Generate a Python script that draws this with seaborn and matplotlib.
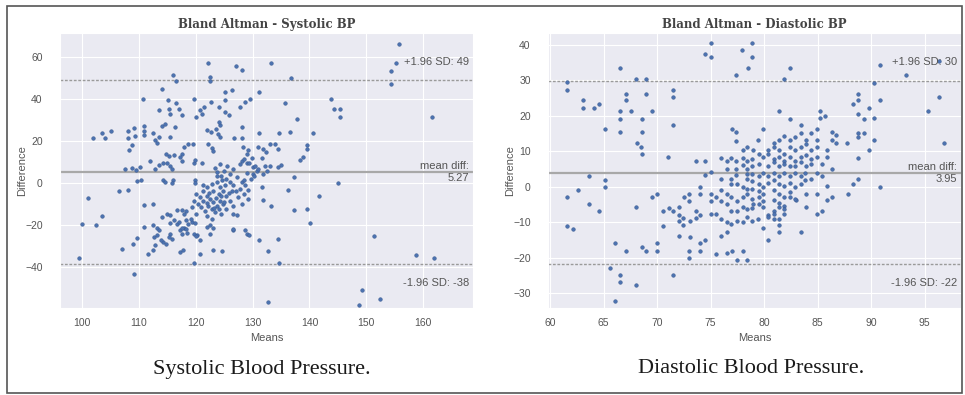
import matplotlib
matplotlib.use('Agg')
import matplotlib.pyplot as plt
import seaborn as sns
from matplotlib.patches import Rectangle

sns.set_style('darkgrid')
plt.rcParams['font.family'] = ['Liberation Sans', 'DejaVu Sans']

# Systolic BP: mean of the two readings vs their difference
sys_means = [
    155.8, 155.3, 154.3, 154.3, 161.5, 122.1, 127.1, 128.1, 133.3, 116.0,
    116.5, 122.5, 122.5, 136.7, 114.1, 125.1, 126.4, 131.2, 110.7, 119.6,
    129.6, 128.7, 127.7, 125.2, 122.7, 121.5, 120.8, 115.1, 115.2, 115.5,
    116.5, 117.0, 117.6, 113.6, 120.1, 121.1, 124.1, 125.2, 125.8, 135.7,
    137.8, 143.8, 144.4, 145.4, 145.3, 101.9, 103.5, 104.1, 105.1, 108.0,
    108.0, 108.3, 109.2, 109.3, 108.8, 110.9, 110.9, 110.9, 112.5, 112.9,
    113.2, 113.6, 115.5, 114.1, 114.5, 116.4, 118.0, 118.7, 119.5, 117.6,
    117.3, 116.1, 115.2, 114.8, 121.9, 122.6, 123.6, 124.2, 123.9, 124.2,
    126.8, 128.2, 128.2, 131.1, 122.2, 122.8, 128.3, 129.1, 129.0, 130.9,
    131.8, 132.4, 133.0, 133.9, 134.5, 134.7, 136.6, 139.6, 139.6, 140.7,
    138.3, 138.9, 135.0, 134.5, 137.2, 145.0, 107.6, 108.8, 109.4, 110.1,
    109.7, 110.3, 112.9, 113.6, 114.3, 114.9, 115.4, 115.8, 114.2, 114.6,
    116.0, 115.8, 117.6, 119.7, 119.8, 121.1, 119.8, 119.8, 106.4, 108.0,
    101.0, 141.7, 112.0, 123.0, 128.1, 129.0, 131.6, 132.2, 130.1, 130.8,
    124.1, 100.0, 102.5, 103.5, 99.5, 109.1, 107.0, 109.0, 109.6, 110.9,
    112.5, 110.9, 112.5, 113.1, 111.5, 112.5, 112.9, 112.7, 113.2, 113.6,
    114.3, 113.8, 114.8, 115.5, 115.8, 115.2, 114.1, 115.0, 115.5, 116.1,
    116.7, 117.0, 117.3, 117.6, 117.9, 117.3, 117.7, 116.7, 117.6, 118.2,
    118.2, 118.7, 119.3, 119.9, 119.6, 120.2, 120.8, 119.6, 120.7, 122.0,
    122.5, 123.1, 122.5, 126.6, 126.6, 127.2, 128.6, 129.0, 129.3, 131.2,
    132.7, 134.7, 134.5, 132.7, 131.6, 131.9, 133.3, 136.3, 137.2, 139.6,
    140.1, 151.3, 149.3, 148.7, 152.4, 158.8, 161.9, 124.6, 126.5, 129.2,
    118.3, 118.5, 123.0, 115.5, 117.9, 117.6, 119.2, 120.0,
    123.7, 124.5, 125.4, 126.0, 126.6, 127.2, 128.1, 128.6, 127.8, 128.4,
    129.2, 130.1, 129.8, 122.8, 123.7, 121.9, 123.1, 124.0, 124.8, 125.4,
    126.0, 126.6, 120.1, 120.7, 121.3, 121.9, 122.5, 123.1, 123.7, 124.2,
    124.8, 125.4, 120.4, 121.0, 121.6, 122.2, 122.8, 123.4, 124.0, 124.5,
    121.9, 122.8, 121.3, 124.2, 125.1, 120.1, 119.3, 119.6, 126.3, 127.5,
    128.1, 123.4, 124.3, 124.9, 125.5, 126.1, 126.6, 127.0, 127.8, 128.4,
    129.3, 129.9, 130.4, 131.0, 131.9, 132.5, 133.0, 130.2, 129.0, 128.4,
    123.7, 124.6, 122.4, 123.6, 125.0, 122.0, 124.4, 123.2, 125.8, 121.2,
]
sys_diffs = [
    66.3, 57.3, 53.3, 47.3, 31.4, 57.3, 55.6, 53.7, 57.3, 51.3,
    48.6, 50.5, 48.6, 50.2, 44.9, 43.3, 44.1, 43.3, 40.2, 40.2,
    40.2, 38.6, 36.2, 39.4, 38.6, 36.2, 34.6, 39.4, 35.4, 33.0,
    38.3, 35.4, 32.2, 34.6, 31.4, 33.0, 36.2, 33.8, 32.2, 38.3,
    30.3, 40.2, 35.4, 35.4, 31.4, 21.4, 23.8, 21.6, 24.9, 24.9,
    21.4, 15.9, 26.2, 22.2, 18.3, 27.0, 24.8, 23.0, 23.8, 20.3,
    19.0, 21.9, 21.9, 27.0, 28.3, 26.7, 17.1, 18.7, 18.4, 14.0,
    12.4, 13.2, 12.7, 13.7, 25.4, 24.3, 25.9, 27.5, 23.3, 21.9,
    21.6, 21.4, 26.7, 23.8, 18.7, 16.7, 17.1, 15.6, 14.0, 17.1,
    16.3, 14.8, 18.7, 18.7, 16.3, 23.8, 24.3, 17.9, 16.3, 24.0,
    11.1, 12.4, 8.4, 7.6, 2.9, 0.0, 6.7, 7.3, 6.0, 7.6,
    0.8, 1.6, 6.7, 8.7, 9.5, 9.5, 7.9, 6.7, 1.3, 0.5,
    1.3, 0.0, 10.3, 9.5, 11.1, 9.5, 1.3, 0.0, -3.8, -3.2,
    -7.0, -6.0, 10.7, 15.0, 10.7, 9.3, 11.7, 8.3, 7.8, 5.9,
    29.0, -19.4, -20.2, -15.9, -36.0, -43.2, -31.3, -28.9, -26.0, -10.6,
    -10.2, -21.0, -20.2, -21.7, -34.0, -32.1, -29.7, -25.7, -24.6, -22.5,
    -28.1, -27.0, -28.9, -24.1, -26.5, -25.7, -16.2, -14.6, -15.4, -17.8,
    -19.4, -18.6, -22.5, -24.1, -21.7, -32.9, -32.1, -13.0, -12.7, -13.5,
    -17.8, -19.4, -18.6, -19.0, -38.1, -24.9, -27.3, -24.1, -34.0, -21.0,
    -20.2, -32.1, -24.1, -22.2, -14.6, -15.4, -22.2, -24.1, -24.9, -27.3,
    -32.4, -38.3, -26.5, -56.7, -1.9, -7.9, -11.1, -3.2, -13.0, -12.2,
    -19.0, -25.4, -51.1, -58.3, -55.1, -34.4, -36.0, -32.3, -21.8, -3.2,
    -21.8, -23.7, -21.3, -18.9, -14.6, -21.3, -17.0, -25.1,
    5.1, 3.5, 2.0, 0.4, -1.2, 2.7, 0.4, -1.2, -2.8, -5.2,
    -7.6, 4.3, 1.9, -0.4, 0.4, -2.0, -3.6, -5.2, -3.6, -6.0,
    -8.4, -10.8, -5.2, -6.8, -8.4, -6.0, -7.6, -9.2, -10.8, -8.4,
    -10.0, -12.4, -10.0, -11.6, -13.2, -10.8, -12.4, -14.0, -12.4, -14.8,
    -15.6, -17.2, -3.6, -2.0, -1.2, -14.8, -11.6, -8.4, -3.6, -6.8,
    -10.0, 7.3, 8.9, 5.7, 8.1, 4.1, 6.5, -4.0, 8.9, 11.3,
    9.7, 12.1, 8.1, 6.5, 4.1, 5.7, 8.1, 3.3, 4.9, 1.3,
    3.3, 1.3, -4.8, -7.0, -9.0, -9.4, -6.4, -12.0, -5.0, -0.8,
]
sys_mean_diff = 5.27
sys_upper = 48.9
sys_lower = -38.4

# Diastolic BP
dia_means = [
    61.6, 61.6, 63.1, 63.1, 64.1, 64.6, 65.1, 66.5, 66.5, 66.5,
    66.5, 67.1, 67.1, 67.6, 68.0, 69.0, 69.0, 69.5, 68.6, 68.6,
    68.1, 68.5, 68.6, 71.5, 71.5, 71.5, 71.0, 73.6, 74.5, 75.0,
    74.5, 75.0, 77.9, 78.9, 78.9, 78.5, 77.4, 82.4, 81.9, 81.4,
    82.4, 79.9, 77.0, 77.4, 77.4, 79.4, 78.4, 79.0, 78.0, 80.9,
    81.4, 81.9, 82.4, 82.9, 83.4, 83.9, 84.4, 84.9, 84.9, 83.4,
    79.5, 80.4, 80.9, 81.4, 81.9, 82.4, 82.9, 83.4, 83.9, 84.4,
    84.9, 85.9, 78.9, 79.9, 80.4, 80.9, 81.4, 81.9, 82.4, 82.9,
    83.4, 83.9, 84.4, 84.9, 85.9, 78.9, 79.5, 80.4, 80.9, 81.4,
    81.9, 82.4, 82.9, 83.4, 83.9, 84.4, 85.4, 86.3, 76.0, 76.5,
    76.9, 77.4, 78.0, 78.4, 76.5, 77.4, 78.0, 78.4, 78.4, 77.4,
    75.0, 74.5, 63.6, 85.2, 85.7, 85.2, 86.3, 86.7, 86.3, 86.7,
    87.7, 88.3, 88.8, 88.8, 88.8, 89.3, 88.8, 89.3, 88.8, 89.8,
    89.8, 90.3, 90.3, 90.3, 90.8, 90.8, 93.3, 95.3, 96.3, 96.3,
    96.8, 88.8, 88.3, 88.8, 90.8, 87.8, 86.3, 85.9, 85.4, 84.9,
    85.9, 84.9, 83.9, 83.4, 83.9, 83.0, 78.9, 79.5, 79.9, 80.4,
    80.9, 81.4, 81.9, 82.4, 82.9, 83.4, 83.8, 84.4, 84.9, 85.4,
    78.9, 79.5, 79.9, 80.4, 80.9, 81.4, 81.9, 82.4, 82.9, 83.4,
    83.8, 78.9, 79.5, 79.9, 80.9, 81.4, 81.9, 82.4, 82.9, 78.9,
    79.5, 79.9, 80.9, 81.4, 81.9, 82.4, 78.9, 79.5, 79.9, 80.4,
    80.9, 81.4, 81.9, 81.4, 80.4, 81.4, 81.4, 79.9, 78.9, 79.4,
    80.4, 80.9, 80.9, 81.9, 61.6, 62.6, 65.1, 65.1, 69.5, 70.0,
    61.6, 62.1, 63.6, 64.6, 66.1, 65.6, 66.5, 66.5, 66.1, 67.1,
    68.0, 68.0, 68.6, 69.0, 70.0, 70.0, 70.5, 70.5, 71.1, 71.5,
    72.0, 72.0, 72.0, 72.4, 72.4, 71.5, 72.0, 73.1, 72.5, 73.0,
    73.0, 73.0, 73.0, 73.6, 73.6, 74.0, 73.1, 74.0, 74.0, 74.0,
    74.0, 74.5, 75.0, 75.0, 75.5, 76.0, 76.0, 76.5, 76.5, 76.9,
    76.9, 75.5, 76.0, 76.5, 76.9, 77.5, 78.0, 78.4, 79.0, 78.4,
    78.0, 77.5, 77.5, 78.0, 78.4, 78.4, 78.0, 77.5, 76.9, 76.0,
    78.4, 76.9, 76.0, 76.5, 78.0, 77.0, 77.5, 78.4, 75.5, 75.0,
    76.5,
]
dia_diffs = [
    29.6, 27.4, 24.6, 22.3, 22.3, 23.4, 16.2, 33.4, 21.3, 19.2,
    15.4, 26.3, 24.6, 21.3, 30.3, 30.3, 26.3, 21.3, 19.2, 15.4,
    12.4, 11.1, 9.3, 27.4, 25.3, 17.3, 8.5, 7.4, 7.4, 40.5,
    37.4, 36.5, 38.6, 40.5, 36.5, 33.6, 31.5, 33.4, 30.3, 21.3,
    19.2, 16.2, 16.2, 15.4, 13.0, 13.3, 11.2, 10.3, 10.3, 12.4,
    13.3, 14.3, 13.1, 14.1, 15.2, 13.3, 15.2, 16.2, 13.3, 17.4,
    9.3, 10.3, 11.2, 10.3, 9.3, 11.2, 10.3, 11.2, 12.2, 10.3,
    11.2, 10.3, 7.9, 8.4, 9.3, 7.9, 8.4, 7.4, 8.4, 7.4,
    8.4, 8.9, 7.9, 8.4, 8.4, 6.0, 6.5, 6.0, 7.0, 6.0,
    6.5, 6.0, 6.0, 7.0, 6.0, 6.5, 6.5, 5.1, 8.2, 7.2,
    8.2, 7.2, 8.2, 7.2, 5.1, 5.1, 6.1, 5.1, 3.7, 3.2,
    4.1, 3.2, 3.1, 21.3, 20.1, 19.5, 15.4, 14.5, 13.3, 12.4,
    12.3, 23.4, 24.6, 26.3, 20.6, 19.2, 15.2, 15.2, 14.1, 10.4,
    22.2, 19.4, 13.1, 29.4, 34.3, 24.4, 31.5, 21.3, 35.4, 25.3,
    12.4, 8.2, 0.9, 2.2, 0.0, -1.9, -2.8, -3.7, -6.7, -7.7,
    0.3, -1.9, -1.9, -12.8, -5.8, -3.7, 3.6, 3.1, 4.0, 3.1,
    4.0, 3.1, 4.0, 3.1, 4.0, 3.1, 4.0, 2.2, 4.0, 3.1,
    1.7, 0.7, 0.0, 1.2, 1.9, 0.9, 0.3, 1.2, 0.0, 0.7,
    1.9, -0.7, -1.3, -1.9, -0.9, -1.9, -2.8, -1.6, -3.5, -3.5,
    -2.8, -3.9, -3.7, -4.7, -5.3, -2.8, -6.0, -4.9, -5.6, -7.9,
    -6.9, -5.6, -6.3, -9.1, -15.0, -12.8, -10.8, -11.7, -9.7, -9.1,
    -8.6, -7.7, -9.1, -7.7, -2.8, -0.9, 1.9, 0.0, -2.8, -1.9,
    -11.0, -11.9, -4.9, -6.9, -15.9, -22.9, -25.0, -26.9, -32.1, -18.0,
    -27.8, -5.8, -17.1, -18.0, -15.9, -18.0, -6.9, -11.0, -6.0, -6.9,
    -5.8, -7.9, -9.7, -8.8, -10.7, -25.0, -14.0, -14.1, -2.8, -1.9,
    -4.1, -18.0, -20.1, -6.9, -8.8, -7.9, -9.7, 0.0, -1.9, -15.9,
    -18.0, -15.0, -1.9, -3.9, -2.8, -0.9, -3.9, -1.9, -4.9, -2.8,
    -6.7, -7.7, -9.1, -10.0, -10.5, -9.6, -10.0, -8.6, -4.9, -6.3,
    -5.8, -6.7, -3.9, -2.8, -2.1, -0.7, 0.0, 0.7, 2.2, 2.2,
    2.2, 0.7, -13.8, -12.8, -18.0, -18.0, -20.8, -20.8, -18.9, -7.7,
    -18.7,
]
dia_mean_diff = 3.95
dia_upper = 29.9
dia_lower = -21.8

titles = ['Bland Altman - Systolic BP', 'Bland Altman - Diastolic BP']
captions = ['Systolic Blood Pressure.', 'Diastolic Blood Pressure.']
sd_limit = 1.96

fig = plt.figure(figsize=(9.65, 3.95), dpi=100)
ax_sys = fig.add_axes([0.0622, 0.2203, 0.428, 0.6962])
ax_dia = fig.add_axes([0.5679, 0.2203, 0.428, 0.6962])

panels = [
    (ax_sys, sys_means, sys_diffs, sys_mean_diff, sys_upper, sys_lower, (96.1, 168.8), (-59.6, 71.5)),
    (ax_dia, dia_means, dia_diffs, dia_mean_diff, dia_upper, dia_lower, (59.8, 98.4), (-34.2, 43.4)),
]

for i, (ax, means, diffs, md, up, lo, xlim, ylim) in enumerate(panels):
    sns.scatterplot(x=means, y=diffs, ax=ax, s=7, color='#4C72B0',
                    edgecolor='#34548a', linewidth=0.3, zorder=3)
    ax.axhline(md, color='#a8a8a8', linewidth=1.6, zorder=2)
    ax.axhline(up, color='#9a9a9a', linewidth=1, linestyle=(0, (2, 1.2)), zorder=2)
    ax.axhline(lo, color='#9a9a9a', linewidth=1, linestyle=(0, (2, 1.2)), zorder=2)
    ax.set_xlim(*xlim)
    ax.set_ylim(*ylim)

    ax.text(0.99, md, f'mean diff:\n{md:.2f}', transform=ax.get_yaxis_transform(),
            ha='right', va='center', fontsize=8, color='#555555', linespacing=1.3)
    ax.text(0.99, 0.895, f'+{sd_limit} SD: {up:0.2g}', transform=ax.transAxes,
            ha='right', va='center', fontsize=8, color='#555555')
    ax.text(0.99, 0.091, f'-{sd_limit} SD: {lo:0.2g}', transform=ax.transAxes,
            ha='right', va='center', fontsize=8, color='#555555')

    ax.text(0.5, 1.03, titles[i], transform=ax.transAxes, ha='center', va='center',
            fontsize=8.5, fontweight='bold', family='DejaVu Serif', color='#444444')
    ax.set_xlabel('Means', fontsize=8, color='#555555')
    ax.set_ylabel('Difference', fontsize=8, color='#555555')
    ax.xaxis.set_label_coords(0.5, -0.091)
    ax.yaxis.set_label_coords(-0.08, 0.5)
    ax.tick_params(axis='both', labelsize=7.5, colors='#555555')
    ax.tick_params(axis='y', pad=9)
    ax.tick_params(axis='x', pad=4)

fig.text(0.2715, 0.0633, captions[0], ha='center', va='center', fontsize=16,
         family='Liberation Serif', color='#1a1a1a')
fig.text(0.778, 0.068, captions[1], ha='center', va='center', fontsize=16,
         family='Liberation Serif', color='#1a1a1a')

fig.patches.append(Rectangle((0.0073, 0.005), 0.990, 0.980, transform=fig.transFigure,
                             fill=False, edgecolor='#555555', linewidth=1.2))

fig.savefig('out.png', dpi=100)
